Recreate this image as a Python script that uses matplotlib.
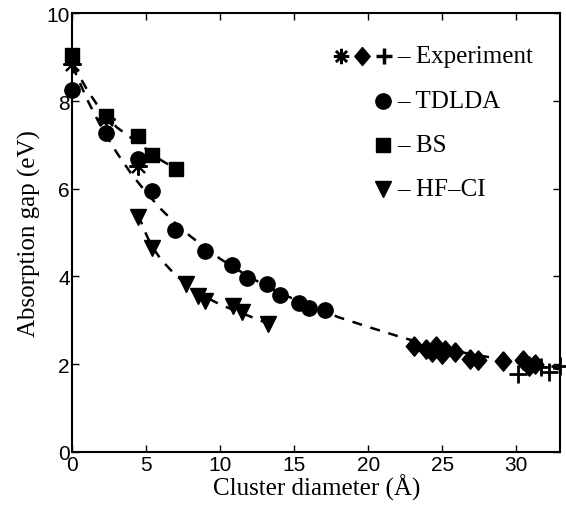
import matplotlib
matplotlib.use("Agg")
import matplotlib.pyplot as plt

# data
bs_x = [0.0, 2.3, 4.45, 5.35, 6.98]
bs_y = [9.05, 7.65, 7.21, 6.76, 6.45]

td_x = [0.0, 2.3, 4.45, 5.35, 6.92, 8.94, 10.8, 11.8, 13.15, 14.03, 15.3, 16.0, 17.1]
td_y = [8.24, 7.28, 6.67, 5.94, 5.05, 4.57, 4.26, 3.96, 3.83, 3.58, 3.39, 3.27, 3.24]

hf_x = [4.45, 5.35, 7.66, 8.5, 8.94, 10.85, 11.5, 13.2]
hf_y = [5.35, 4.64, 3.83, 3.56, 3.45, 3.33, 3.18, 2.92]

star_x = [0.0, 2.3, 4.4]
star_y = [8.85, 7.6, 6.52]

dia_x = [23.1, 23.9, 24.3, 24.6, 25.0, 25.2, 25.9, 26.9, 27.45, 29.1, 30.5, 30.9, 31.3]
dia_y = [2.41, 2.34, 2.27, 2.42, 2.23, 2.33, 2.27, 2.12, 2.10, 2.08, 2.10, 1.96, 2.00]

plus_x = [30.15, 31.7, 32.2, 33.0]
plus_y = [1.77, 1.93, 1.81, 1.96]

# dashed guide curves
fitA_x = [0, 1, 2, 3, 4, 5, 6, 7]
fitA_y = [8.85, 8.25, 7.75, 7.4, 7.15, 6.9, 6.65, 6.45]

fitB_x = [0, 1, 2, 3, 4, 5, 6, 7, 8, 10, 12, 14, 16, 18, 20, 22, 24, 26, 28, 30, 33]
fitB_y = [8.8, 8.03, 7.37, 6.82, 6.33, 5.91, 5.53, 5.2, 4.91, 4.4, 3.98, 3.63, 3.33,
          3.07, 2.85, 2.64, 2.44, 2.29, 2.17, 2.05, 1.88]

fitC_x = [4.45, 5.0, 5.35, 6, 7, 8, 9, 10, 11, 12, 13.2]
fitC_y = [5.4, 4.95, 4.7, 4.38, 4.02, 3.75, 3.53, 3.36, 3.22, 3.09, 2.93]

serif = "Liberation Serif"
sans = "Liberation Sans"

# matlab-like diamond (a bit taller than wide) and asterisk
diamond = [(0, 1), (0.85, 0), (0, -1), (-0.85, 0), (0, 1)]
aster = (8, 2, 0)

fig = plt.figure(figsize=(5.66, 5.10), dpi=100)
ax = fig.add_axes([0.128, 0.112, 0.862, 0.860])

dash = dict(color="k", ls=(0, (4, 3.5)), lw=1.8)
ax.plot(fitA_x, fitA_y, **dash)
ax.plot(fitB_x, fitB_y, **dash)
ax.plot(fitC_x, fitC_y, **dash)

mk = dict(ls="none", color="k", clip_on=False)
ax.plot(bs_x, bs_y, marker="s", ms=9.5, **mk)
ax.plot(td_x, td_y, marker="o", ms=11, **mk)
ax.plot(hf_x, hf_y, marker="v", ms=11, **mk)
ax.plot(dia_x, dia_y, marker=diamond, ms=14, **mk)
ax.plot(star_x, star_y, marker=aster, ms=13, mew=1.5, **mk)
ax.plot(plus_x, plus_y, marker="+", ms=13, mew=2, **mk)

ax.set_xlim(0, 33)
ax.set_ylim(0, 10)
ax.set_xticks([0, 5, 10, 15, 20, 25, 30])
ax.set_yticks([0, 2, 4, 6, 8, 10])
ax.tick_params(direction="in", top=True, right=True, length=5, width=1,
               labelsize=15, pad=2)
for lab in ax.get_xticklabels() + ax.get_yticklabels():
    lab.set_family(sans)
for sp in ax.spines.values():
    sp.set_linewidth(1.5)

ax.set_xlabel("Cluster diameter (Å)", family=serif, fontsize=18, labelpad=0)
ax.set_ylabel("Absorption gap (eV)", family=serif, fontsize=18, labelpad=4)

# hand-made legend
tr = ax.transAxes
def px(x, y):
    return ((x - 72) / 488.0, (452.7 - y) / 438.2)

rows = [57, 102, 146, 190]
x0, y0 = px(341, rows[0])
ax.plot([x0], [y0], marker=aster, ms=11, mew=1.8, color="k", transform=tr)
x0, y0 = px(362, rows[0])
ax.plot([x0], [y0], marker=diamond, ms=13, color="k", transform=tr)
x0, y0 = px(384, rows[0])
ax.plot([x0], [y0], marker="+", ms=12, mew=2.5, color="k", transform=tr)
x0, y0 = px(383, rows[1])
ax.plot([x0], [y0], marker="o", ms=11, color="k", transform=tr)
x0, y0 = px(383, rows[2])
ax.plot([x0], [y0], marker="s", ms=9.5, color="k", transform=tr)
x0, y0 = px(383, rows[3])
ax.plot([x0], [y0], marker="v", ms=12, color="k", transform=tr)

labels = ["– Experiment", "– TDLDA", "– BS", "– HF–CI"]
for r, t in zip(rows, labels):
    x0, y0 = px(397, r)
    ax.text(x0, y0, t, transform=tr, family=serif, fontsize=18,
            ha="left", va="center")

fig.savefig("out.png", dpi=100)
